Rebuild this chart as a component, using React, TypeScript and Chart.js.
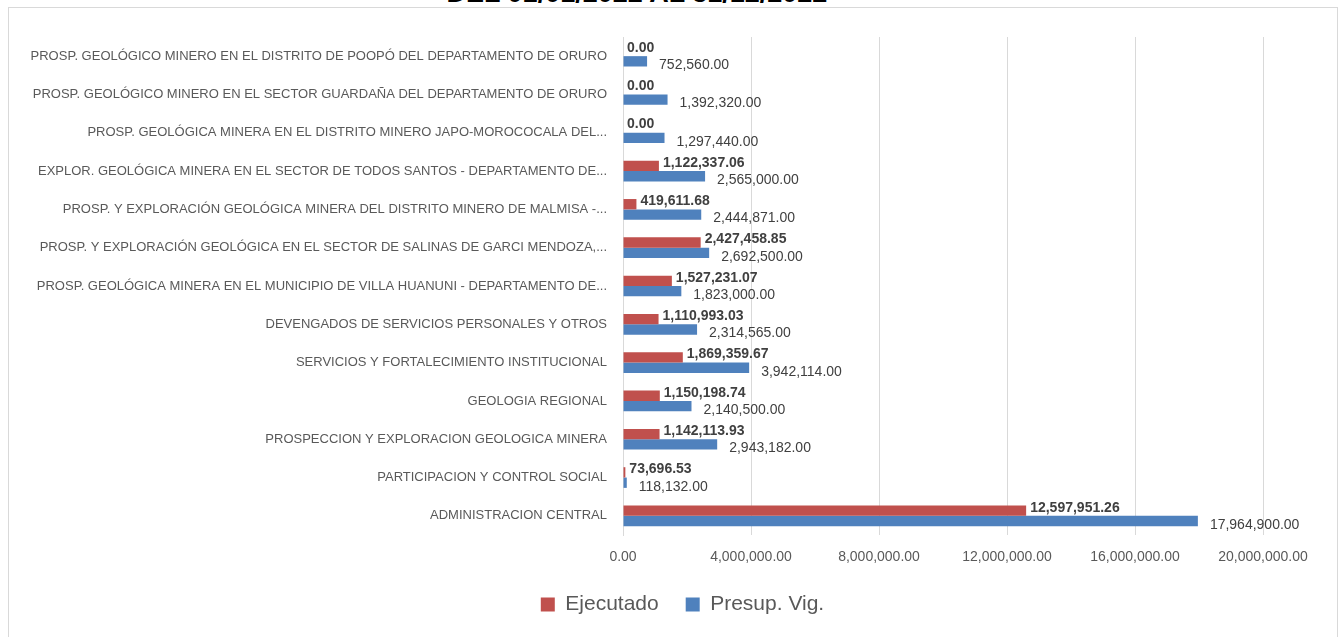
import React, { useEffect, useRef } from "react";
import { Chart, registerables } from "chart.js";

Chart.register(...registerables);

const TITLE_TEXT = "DEL 01/01/2022 AL 31/12/2022";

const categories: string[] = [
  "PROSP. GEOLÓGICO MINERO EN EL DISTRITO DE POOPÓ DEL DEPARTAMENTO DE ORURO",
  "PROSP. GEOLÓGICO MINERO EN EL SECTOR GUARDAÑA DEL DEPARTAMENTO DE ORURO",
  "PROSP. GEOLÓGICA MINERA EN EL DISTRITO MINERO JAPO-MOROCOCALA DEL...",
  "EXPLOR. GEOLÓGICA MINERA EN EL SECTOR DE TODOS SANTOS - DEPARTAMENTO DE...",
  "PROSP. Y EXPLORACIÓN GEOLÓGICA MINERA DEL DISTRITO MINERO DE MALMISA -...",
  "PROSP. Y EXPLORACIÓN GEOLÓGICA EN EL SECTOR DE SALINAS DE GARCI MENDOZA,...",
  "PROSP. GEOLÓGICA MINERA EN EL MUNICIPIO DE VILLA HUANUNI - DEPARTAMENTO DE...",
  "DEVENGADOS DE SERVICIOS PERSONALES Y OTROS",
  "SERVICIOS Y FORTALECIMIENTO INSTITUCIONAL",
  "GEOLOGIA REGIONAL",
  "PROSPECCION Y EXPLORACION GEOLOGICA MINERA",
  "PARTICIPACION Y CONTROL SOCIAL",
  "ADMINISTRACION CENTRAL",
];

const ejecutado: number[] = [
  0, 0, 0, 1122337.06, 419611.68, 2427458.85, 1527231.07, 1110993.03,
  1869359.67, 1150198.74, 1142113.93, 73696.53, 12597951.26,
];

const presupVig: number[] = [
  752560, 1392320, 1297440, 2565000, 2444871, 2692500, 1823000, 2314565,
  3942114, 2140500, 2943182, 118132, 17964900,
];

const xTickValues: number[] = [0, 4000000, 8000000, 12000000, 16000000, 20000000];

const seriesNames: string[] = ["Ejecutado", "Presup. Vig."];

const FONT = '"Liberation Sans", Arial, sans-serif';

const fmt = (v: number) =>
  v.toLocaleString("en-US", { minimumFractionDigits: 2, maximumFractionDigits: 2 });

const valueLabels = {
  id: "valueLabels",
  afterDatasetsDraw(chart: any) {
    const ctx = chart.ctx;
    chart.data.datasets.forEach((ds: any, di: number) => {
      const meta = chart.getDatasetMeta(di);
      meta.data.forEach((bar: any, i: number) => {
        const text = fmt(ds.data[i]);
        ctx.save();
        ctx.font = (di === 0 ? "bold " : "") + "14px " + FONT;
        ctx.fillStyle = "#404040";
        ctx.textAlign = "left";
        ctx.textBaseline = "middle";
        const x = bar.x + (di === 0 ? 4 : 12);
        const y = bar.y + (di === 0 ? -3 : 4);
        ctx.fillText(text, x, y);
        ctx.restore();
      });
    });
  },
};

// centre the legend on the whole frame rather than on the padded layout box
const legendShift = {
  id: "legendShift",
  afterLayout(chart: any) {
    const l = chart.legend;
    if (l) {
      l.left += 51;
      l.right += 51;
    }
  },
};

export default function App() {
  const canvasRef = useRef<HTMLCanvasElement | null>(null);

  useEffect(() => {
    if (!canvasRef.current) return;
    Chart.defaults.font.family = FONT;
    const chart = new Chart(canvasRef.current, {
      type: "bar",
      data: {
        labels: categories,
        datasets: [
          {
            label: seriesNames[0],
            data: ejecutado,
            backgroundColor: "#C0504D",
            categoryPercentage: 0.54,
            barPercentage: 1,
          },
          {
            label: seriesNames[1],
            data: presupVig,
            backgroundColor: "#4F81BD",
            categoryPercentage: 0.54,
            barPercentage: 1,
          },
        ],
      },
      options: {
        indexAxis: "y",
        animation: false,
        responsive: true,
        maintainAspectRatio: false,
        layout: { padding: { top: 37, right: 80, bottom: 12, left: 0 } },
        plugins: {
          title: { display: false },
          tooltip: { enabled: false },
          legend: {
            display: true,
            position: "bottom",
            labels: {
              boxWidth: 14,
              boxHeight: 14,
              padding: 27,
              color: "#595959",
              font: { size: 21, family: FONT },
            },
          },
        },
        scales: {
          x: {
            min: 0,
            max: 20000000,
            afterBuildTicks: (scale: any) => {
              scale.ticks = xTickValues.map((v) => ({ value: v }));
            },
            afterFit: (scale: any) => {
              scale.height = 32;
            },
            grid: { color: "#d9d9d9", lineWidth: 1, drawTicks: false },
            border: { display: false },
            ticks: {
              padding: 14,
              color: "#595959",
              font: { size: 14, family: FONT },
              maxRotation: 0,
              callback: (v: any) => fmt(Number(v)),
            },
          },
          y: {
            afterFit: (scale: any) => {
              scale.width = 623;
            },
            grid: { display: false, drawTicks: false },
            border: { display: true, color: "#d9d9d9", width: 1 },
            ticks: {
              padding: 16,
              color: "#595959",
              font: { size: 13, family: FONT },
              autoSkip: false,
            },
          },
        },
      },
      plugins: [valueLabels, legendShift],
    });
    return () => chart.destroy();
  }, []);

  return (
    <div
      style={{
        position: "fixed",
        left: 0,
        top: 0,
        width: 1343,
        height: 637,
        overflow: "hidden",
        background: "#ffffff",
      }}
    >
      <div
        style={{
          position: "absolute",
          left: 8,
          top: 7,
          width: 1330,
          height: 700,
          border: "1px solid #d9d9d9",
          boxSizing: "border-box",
        }}
      />
      <div
        style={{
          position: "absolute",
          left: 0,
          top: -20,
          width: 1274,
          textAlign: "center",
          font: "bold 27px " + FONT,
          lineHeight: "27px",
          color: "#000000",
          whiteSpace: "nowrap",
        }}
      >
        {TITLE_TEXT}
      </div>
      <div style={{ position: "absolute", left: 0, top: 0, width: 1343, height: 637 }}>
        <canvas ref={canvasRef} />
      </div>
    </div>
  );
}
